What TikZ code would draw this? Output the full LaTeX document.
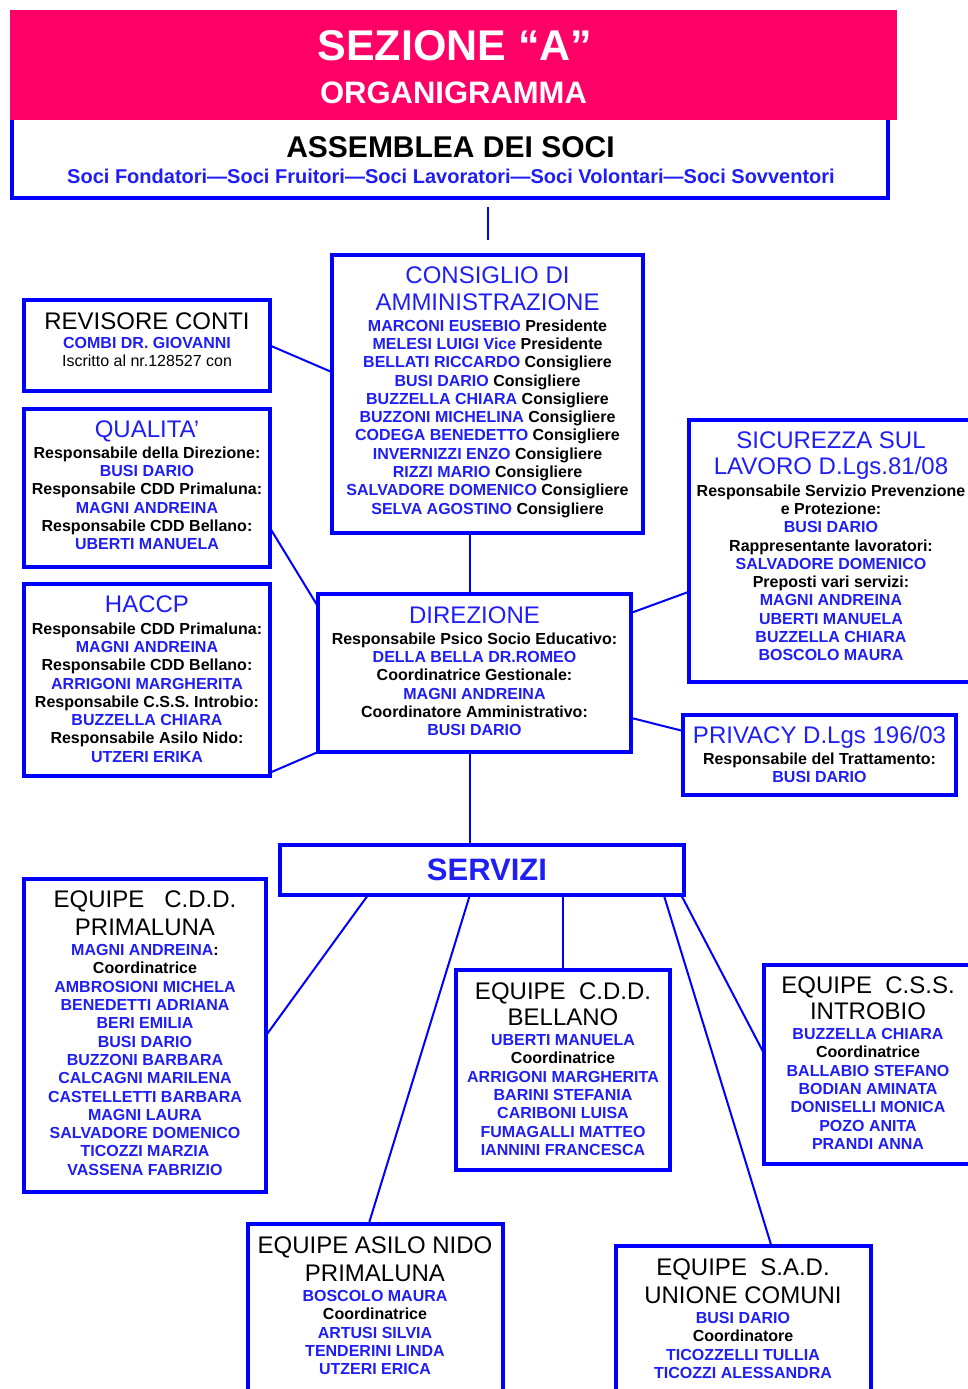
\documentclass[tikz,border=0pt]{standalone}
\usepackage{fontspec}
\setmainfont{Liberation Sans}
\usepackage{xcolor}
\usepackage{tikz}
\usetikzlibrary{calc}

\definecolor{headpink}{RGB}{255,0,102}
\definecolor{nameblue}{RGB}{30,30,245}
\newcommand{\nm}[1]{\textcolor{nameblue}{#1}}

\begin{document}
\begin{tikzpicture}[x=1pt, y=-1pt,
    orgbox/.style={draw=blue, line width=4pt, fill=white, inner sep=0pt, outer sep=0pt},
    ttl/.style={font=\fontsize{24}{27}\selectfont, align=center, inner sep=0pt, anchor=north},
    txt/.style={font=\fontsize{16}{18.3}\selectfont\bfseries, align=center, inner sep=0pt, anchor=north},
    link/.style={draw=blue, line width=2pt}]
    \useasboundingbox (0,0) rectangle (967,1389);

    % Assemblea and header
    \node[orgbox, minimum width=876, minimum height=80] (assem) at (450,158) {};
    \node[fill=headpink, inner sep=0pt, minimum width=887, minimum height=110] (head) at (453.5,65) {};
    \node[font=\fontsize{43}{50}\selectfont\bfseries, text=white] (head-t) at (455,46) {SEZIONE “A”};
    \node[font=\fontsize{31}{36}\selectfont\bfseries, text=white] (head-s) at (453.5,93) {ORGANIGRAMMA};
    \node[font=\fontsize{30}{34}\selectfont\bfseries] (assem-t) at (450.5,147) {ASSEMBLEA DEI SOCI};
    \node[font=\fontsize{20}{24}\selectfont\bfseries, text=nameblue] (assem-b) at (451,176)
        {Soci Fondatori—Soci Fruitori—Soci Lavoratori—Soci Volontari—Soci Sovventori};

    % Consiglio di amministrazione
    \node[orgbox, minimum width=311, minimum height=278] (cda) at (487.5,394) {};
    \node[ttl, text=nameblue] (cda-t) at (487.5,266.4) {CONSIGLIO DI\\AMMINISTRAZIONE};
    \node[txt] (cda-b) at (487.5,319.3) {\nm{MARCONI EUSEBIO} Presidente\\
        \nm{MELESI LUIGI Vice} Presidente\\
        \nm{BELLATI RICCARDO} Consigliere\\
        \nm{BUSI DARIO} Consigliere\\
        \nm{BUZZELLA CHIARA} Consigliere\\
        \nm{BUZZONI MICHELINA} Consigliere\\
        \nm{CODEGA BENEDETTO} Consigliere\\
        \nm{INVERNIZZI ENZO} Consigliere\\
        \nm{RIZZI MARIO} Consigliere\\
        \nm{SALVADORE DOMENICO} Consigliere\\
        \nm{SELVA AGOSTINO} Consigliere};

    % Left column
    \node[orgbox, minimum width=246, minimum height=91] (rev) at (147,345.5) {};
    \node[ttl] (rev-t) at (147,312.4) {REVISORE CONTI};
    \node[txt] (rev-b) at (147,337.3) {\nm{COMBI DR. GIOVANNI}\\{\mdseries Iscritto al nr.128527 con}};

    \node[orgbox, minimum width=246, minimum height=158] (qual) at (147,488) {};
    \node[ttl, text=nameblue] (qual-t) at (147,420.4) {QUALITA’};
    \node[txt] (qual-b) at (147,446.3) {Responsabile della Direzione:\\
        \nm{BUSI DARIO}\\
        Responsabile CDD Primaluna:\\
        \nm{MAGNI ANDREINA}\\
        Responsabile CDD Bellano:\\
        \nm{UBERTI MANUELA}};

    \node[orgbox, minimum width=246, minimum height=192] (haccp) at (147,680) {};
    \node[ttl, text=nameblue] (haccp-t) at (147,595.4) {HACCP};
    \node[txt] (haccp-b) at (147,622.3) {Responsabile CDD Primaluna:\\
        \nm{MAGNI ANDREINA}\\
        Responsabile CDD Bellano:\\
        \nm{ARRIGONI MARGHERITA}\\
        Responsabile C.S.S. Introbio:\\
        \nm{BUZZELLA CHIARA}\\
        Responsabile Asilo Nido:\\
        \nm{UTZERI ERIKA}};

    % Direzione
    \node[orgbox, minimum width=313, minimum height=158] (dir) at (474.5,673) {};
    \node[ttl, text=nameblue] (dir-t) at (474.5,606.4) {DIREZIONE};
    \node[txt] (dir-b) at (474.5,632.3) {Responsabile Psico Socio Educativo:\\
        \nm{DELLA BELLA DR.ROMEO}\\
        Coordinatrice Gestionale:\\
        \nm{MAGNI ANDREINA}\\
        Coordinatore Amministrativo:\\
        \nm{BUSI DARIO}};

    % Right column
    \node[orgbox, minimum width=284, minimum height=262] (sic) at (831,551) {};
    \node[ttl, text=nameblue, font=\fontsize{24}{26}\selectfont] (sic-t) at (831,431.4) {SICUREZZA SUL\\LAVORO D.Lgs.81/08};
    \node[txt] (sic-b) at (831,484.3) {Responsabile Servizio Prevenzione\\
        e Protezione:\\
        \nm{BUSI DARIO}\\
        Rappresentante lavoratori:\\
        \nm{SALVADORE DOMENICO}\\
        Preposti vari servizi:\\
        \nm{MAGNI ANDREINA}\\
        \nm{UBERTI MANUELA}\\
        \nm{BUZZELLA CHIARA}\\
        \nm{BOSCOLO MAURA}};

    \node[orgbox, minimum width=273, minimum height=80] (priv) at (819.5,755) {};
    \node[ttl, text=nameblue] (priv-t) at (819.5,726.4) {PRIVACY D.Lgs 196/03};
    \node[txt] (priv-b) at (819.5,752.3) {Responsabile del Trattamento:\\\nm{BUSI DARIO}};

    % Servizi
    \node[orgbox, minimum width=404, minimum height=50] (serv) at (482,870) {};
    \node[font=\fontsize{31}{36}\selectfont\bfseries, text=nameblue] (serv-t) at (487,870) {SERVIZI};

    % Equipes
    \node[orgbox, minimum width=242, minimum height=313] (eqp) at (145,1035.5) {};
    \node[ttl, font=\fontsize{24}{28}\selectfont] (eqp-t) at (145,890.4) {EQUIPE~~~C.D.D.\\PRIMALUNA};
    \node[txt] (eqp-b) at (145,944.3) {\nm{MAGNI ANDREINA}:\\
        Coordinatrice\\
        \nm{AMBROSIONI MICHELA}\\
        \nm{BENEDETTI ADRIANA}\\
        \nm{BERI EMILIA}\\
        \nm{BUSI DARIO}\\
        \nm{BUZZONI BARBARA}\\
        \nm{CALCAGNI MARILENA}\\
        \nm{CASTELLETTI BARBARA}\\
        \nm{MAGNI LAURA}\\
        \nm{SALVADORE DOMENICO}\\
        \nm{TICOZZI MARZIA}\\
        \nm{VASSENA FABRIZIO}};

    \node[orgbox, minimum width=214, minimum height=200] (eqb) at (563,1070) {};
    \node[ttl, font=\fontsize{24}{26}\selectfont] (eqb-t) at (563,982.4) {EQUIPE~~C.D.D.\\BELLANO};
    \node[txt] (eqb-b) at (563,1034.3) {\nm{UBERTI MANUELA}\\
        Coordinatrice\\
        \nm{ARRIGONI MARGHERITA}\\
        \nm{BARINI STEFANIA}\\
        \nm{CARIBONI LUISA}\\
        \nm{FUMAGALLI MATTEO}\\
        \nm{IANNINI FRANCESCA}};

    \node[orgbox, minimum width=209, minimum height=199] (eqi) at (868.5,1064.5) {};
    \node[ttl, font=\fontsize{24}{26}\selectfont] (eqi-t) at (868,976.4) {EQUIPE~~C.S.S.\\INTROBIO};
    \node[txt] (eqi-b) at (868,1028.3) {\nm{BUZZELLA CHIARA}\\
        Coordinatrice\\
        \nm{BALLABIO STEFANO}\\
        \nm{BODIAN AMINATA}\\
        \nm{DONISELLI MONICA}\\
        \nm{POZO ANITA}\\
        \nm{PRANDI ANNA}};

    \node[orgbox, minimum width=255, minimum height=194] (eqa) at (375.5,1321) {};
    \node[ttl, font=\fontsize{24}{28}\selectfont] (eqa-t) at (375,1236.4) {EQUIPE ASILO NIDO\\PRIMALUNA};
    \node[txt] (eqa-b) at (375,1290.3) {\nm{BOSCOLO MAURA}\\
        Coordinatrice\\
        \nm{ARTUSI SILVIA}\\
        \nm{TENDERINI LINDA}\\
        \nm{UTZERI ERICA}};

    \node[orgbox, minimum width=255, minimum height=172] (eqs) at (743.5,1332) {};
    \node[ttl, font=\fontsize{24}{28}\selectfont] (eqs-t) at (743,1258.4) {EQUIPE~~S.A.D.\\UNIONE COMUNI};
    \node[txt] (eqs-b) at (743,1312.3) {\nm{BUSI DARIO}\\
        Coordinatore\\
        \nm{TICOZZELLI TULLIA}\\
        \nm{TICOZZI ALESSANDRA}};

    % Connectors
    \coordinate (trunk) at (470,700);
    \draw[link, shorten <=9pt, shorten >=15pt] (assem.south -| cda.north) -- (cda.north);
    \draw[link] (rev.east) -- (cda.172);
    \draw[link] (cda.south -| trunk) -- (dir.north -| trunk);
    \draw[link] (qual.-18) -- (dir.157);
    \draw[link] (haccp.-37) -- (dir.south west);
    \draw[link] (dir.21) -- (sic.196);
    \draw[link] (dir.-16) -- (priv.170);
    \draw[link] (dir.south -| trunk) -- (serv.north -| trunk);
    \draw[link] ($(serv.south west)!0.218!(serv.south east)$) -- (eqp.east);
    \draw[link] ($(serv.south west)!0.47!(serv.south east)$) -- (eqa.94);
    \draw[link] (serv.south -| eqb.north) -- (eqb.north);
    \draw[link] ($(serv.south west)!0.95!(serv.south east)$) -- (eqs.72);
    \draw[link] ($(serv.south west)!0.993!(serv.south east)$) -- (eqi.174);
\end{tikzpicture}
\end{document}
